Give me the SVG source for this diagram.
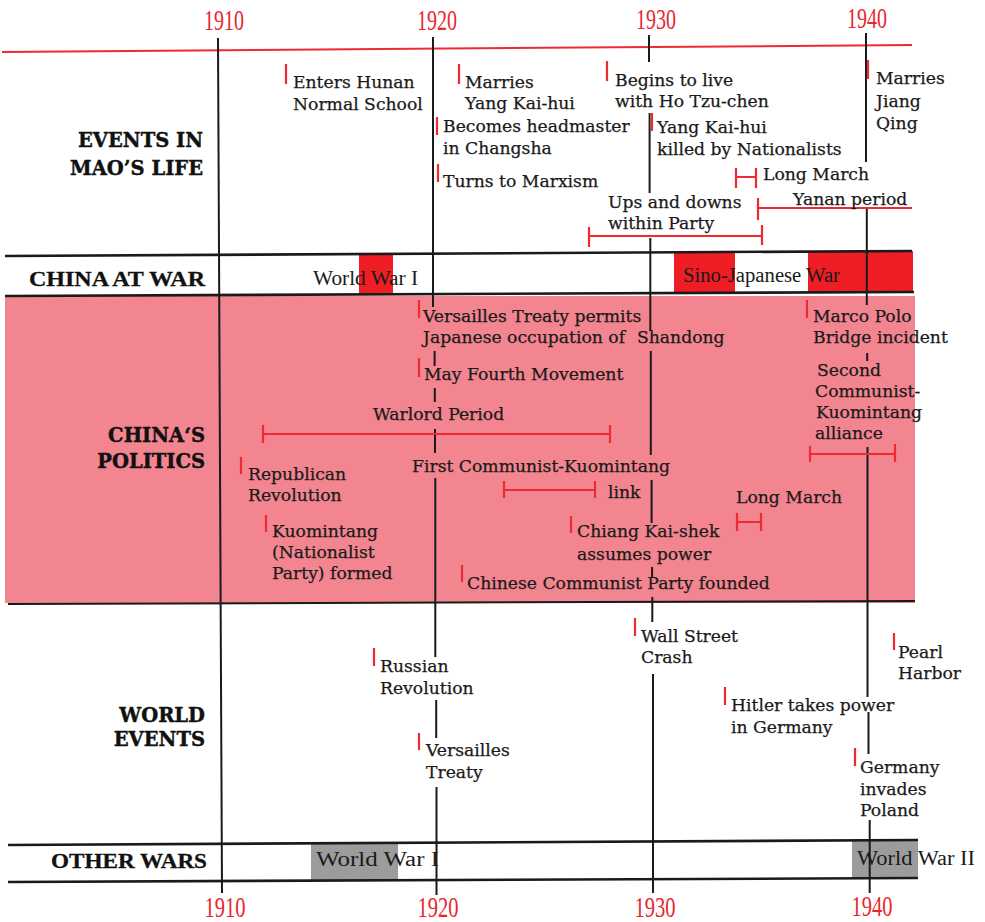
<svg xmlns="http://www.w3.org/2000/svg" width="985" height="922" viewBox="0 0 985 922">
<style>
.yr{font-family:"Liberation Serif",serif;font-size:30px;fill:#e8262e;text-anchor:middle}
.t{font-family:"DejaVu Serif",serif;font-size:17.2px;fill:#1a1a1a;stroke:#1a1a1a;stroke-width:0.25}
.hd{font-family:"DejaVu Serif",serif;font-size:19.5px;font-weight:bold;fill:#111;stroke:#111;stroke-width:0.4;text-anchor:end}
.hc{font-family:"Liberation Serif",serif;font-size:22px;font-weight:bold;fill:#111;stroke:#111;stroke-width:0.3;text-anchor:end}
.w{font-family:"Liberation Serif",serif;font-size:20px;fill:#1a1a1a}
.tk{stroke:#ee2b33;stroke-width:2.2;fill:none}
.ax{stroke:#1a1a1a;stroke-width:2;fill:none}
.bd{stroke:#1a1a1a;stroke-width:2.6;fill:none}
</style>
<rect width="985" height="922" fill="#ffffff"/>
<g id="politics-bg"><rect x="5" y="296" width="910" height="307" fill="#f2858f"/></g>
<g id="years-top">
<text class="yr" x="224" y="30" textLength="40" lengthAdjust="spacingAndGlyphs">1910</text>
<text class="yr" x="437" y="30" textLength="40" lengthAdjust="spacingAndGlyphs">1920</text>
<text class="yr" x="656" y="29" textLength="40" lengthAdjust="spacingAndGlyphs">1930</text>
<text class="yr" x="867" y="28" textLength="40" lengthAdjust="spacingAndGlyphs">1940</text>
</g>
<g id="years-bottom">
<text class="yr" x="225" y="917" textLength="41" lengthAdjust="spacingAndGlyphs">1910</text>
<text class="yr" x="438" y="917" textLength="41" lengthAdjust="spacingAndGlyphs">1920</text>
<text class="yr" x="655" y="917" textLength="41" lengthAdjust="spacingAndGlyphs">1930</text>
<text class="yr" x="872" y="916" textLength="41" lengthAdjust="spacingAndGlyphs">1940</text>
</g>
<g id="bands">
<rect x="359" y="254" width="34" height="40" fill="#ef1d24"/>
<rect x="674" y="252" width="61" height="41" fill="#ef1d24"/>
<rect x="808" y="251" width="105" height="41" fill="#ef1d24"/>
<rect x="311" y="844" width="87" height="37" fill="#9c9c9c"/>
<rect x="852" y="839" width="66" height="39" fill="#9c9c9c"/>
<line class="tk" x1="2" y1="52" x2="912" y2="45" style="stroke-width:2"/>
<line class="bd" x1="5" y1="256" x2="912" y2="251"/>
<line class="bd" x1="5" y1="296" x2="914" y2="292"/>
<line class="ax" x1="8" y1="604" x2="915" y2="601"/>
<line class="bd" x1="8" y1="845" x2="918" y2="840"/>
<line class="bd" x1="8" y1="882" x2="918" y2="878"/>
</g>
<g id="year-lines">
<line class="ax" x1="218" y1="38" x2="222" y2="893"/>
<path class="ax" d="M433 37V307M434.6 351V366M434.8 388V402M435 429V453M435.3 478V657M436.2 700V738M436.5 787V895"/>
<path class="ax" d="M649 35V62M649.6 113V193M650.3 238V330M650.8 351V455M651.6 480V523M652.1 567V577M652.3 597V622M653 674V893"/>
<path class="ax" d="M866 33V162M866.8 209V305M867.2 353V361M867.5 447V697M868.5 712V754M869.7 820V893"/>
</g>
<g id="labels">
<text class="hd" x="203" y="147">EVENTS IN</text>
<text class="hd" x="203" y="175">MAO’S LIFE</text>
<text class="hc" x="205" y="286" textLength="176" lengthAdjust="spacingAndGlyphs">CHINA AT WAR</text>
<text class="hd" x="205" y="442">CHINA‘S</text>
<text class="hd" x="205" y="468">POLITICS</text>
<text class="hd" x="205" y="722">WORLD</text>
<text class="hd" x="205" y="746">EVENTS</text>
<text class="hc" x="207" y="868" textLength="156" lengthAdjust="spacingAndGlyphs">OTHER WARS</text>
</g>
<g id="mao-events">
<path class="tk" d="M286 64V84M459 64V84M607 61V81M868 60V79M437 117V135M652 113V131M438 164V182"/>
<path class="tk" d="M736 168V188M756 168V188M736 177H756"/>
<path class="tk" d="M589 227V247M762 225V245M589 236H762"/>
<path class="tk" d="M758 198V220M758 208H912"/>
<text class="t" x="293" y="88">Enters Hunan</text>
<text class="t" x="293" y="110">Normal School</text>
<text class="t" x="465" y="88">Marries</text>
<text class="t" x="465" y="109">Yang Kai-hui</text>
<text class="t" x="615" y="86">Begins to live</text>
<text class="t" x="615" y="107">with Ho Tzu-chen</text>
<text class="t" x="876" y="84">Marries</text>
<text class="t" x="876" y="107">Jiang</text>
<text class="t" x="876" y="129">Qing</text>
<text class="t" x="443" y="132">Becomes headmaster</text>
<text class="t" x="443" y="154">in Changsha</text>
<text class="t" x="657" y="133">Yang Kai-hui</text>
<text class="t" x="657" y="155">killed by Nationalists</text>
<text class="t" x="443" y="187">Turns to Marxism</text>
<text class="t" x="763" y="180">Long March</text>
<text class="t" x="608" y="208">Ups and downs</text>
<text class="t" x="608" y="229">within Party</text>
<text class="t" x="793" y="205">Yanan period</text>
</g>
<g id="china-at-war">
<text class="w" x="313" y="285" textLength="105" lengthAdjust="spacingAndGlyphs">World War I</text>
<text class="w" x="683" y="282" textLength="157" lengthAdjust="spacingAndGlyphs">Sino-Japanese War</text>
</g>
<g id="china-politics">
<path class="tk" d="M419 300V318M807 300V318M419 358V377M241 457V474M266 515V532M571 516V533M462 565V582"/>
<path class="tk" d="M810 446V462M895 444V462M810 454H895"/>
<path class="tk" d="M263 425V443M610 425V443M263 434H610"/>
<path class="tk" d="M504 481V498M595 481V498M504 490H595"/>
<path class="tk" d="M737 513V531M761 513V531M737 522H761"/>
<text class="t" x="423" y="322">Versailles Treaty permits</text>
<text class="t" x="423" y="343">Japanese occupation of</text>
<text class="t" x="637" y="343">Shandong</text>
<text class="t" x="813" y="322">Marco Polo</text>
<text class="t" x="813" y="343">Bridge incident</text>
<text class="t" x="424" y="380">May Fourth Movement</text>
<text class="t" x="817" y="376">Second</text>
<text class="t" x="815" y="397">Communist-</text>
<text class="t" x="816" y="418">Kuomintang</text>
<text class="t" x="815" y="439">alliance</text>
<text class="t" x="373" y="420">Warlord Period</text>
<text class="t" x="248" y="480">Republican</text>
<text class="t" x="248" y="501">Revolution</text>
<text class="t" x="412" y="472">First Communist-Kuomintang</text>
<text class="t" x="608" y="498">link</text>
<text class="t" x="736" y="503">Long March</text>
<text class="t" x="272" y="537">Kuomintang</text>
<text class="t" x="272" y="558">(Nationalist</text>
<text class="t" x="272" y="579">Party) formed</text>
<text class="t" x="577" y="537">Chiang Kai-shek</text>
<text class="t" x="577" y="560">assumes power</text>
<text class="t" x="467" y="589">Chinese Communist Party founded</text>
</g>
<g id="world-events">
<path class="tk" d="M635 618V636M894 633V650M374 648V666M725 687V705M419 733V750M855 748V766"/>
<text class="t" x="641" y="642">Wall Street</text>
<text class="t" x="641" y="663">Crash</text>
<text class="t" x="898" y="658">Pearl</text>
<text class="t" x="898" y="679">Harbor</text>
<text class="t" x="380" y="672">Russian</text>
<text class="t" x="380" y="694">Revolution</text>
<text class="t" x="731" y="711">Hitler takes power</text>
<text class="t" x="731" y="733">in Germany</text>
<text class="t" x="426" y="756">Versailles</text>
<text class="t" x="426" y="778">Treaty</text>
<text class="t" x="860" y="773">Germany</text>
<text class="t" x="860" y="795">invades</text>
<text class="t" x="860" y="816">Poland</text>
</g>
<g id="other-wars">
<text class="w" x="316" y="866" textLength="123" lengthAdjust="spacingAndGlyphs">World War I</text>
<text class="w" x="857" y="865" textLength="118" lengthAdjust="spacingAndGlyphs">World War II</text>
</g>
</svg>
